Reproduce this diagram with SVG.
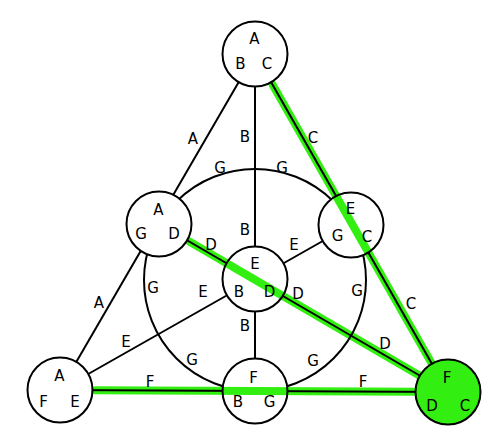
<svg xmlns="http://www.w3.org/2000/svg" width="502" height="444" viewBox="0 0 502 444">
<style>
text{font-family:"DejaVu Sans","Liberation Sans",sans-serif;font-size:15px;text-anchor:middle;fill:#000}
.ln{stroke:#000;stroke-width:2;fill:none}
.hl{stroke:#33ee11;stroke-width:8;stroke-linecap:round;fill:none}
.nd{stroke:#000;stroke-width:2;fill:none}
</style>
<defs>
<mask id="holes" maskUnits="userSpaceOnUse" x="0" y="0" width="502" height="444">
<rect x="0" y="0" width="502" height="444" fill="#fff"/>
<circle cx="255" cy="54" r="32.5" fill="#000"/>
<circle cx="159" cy="224" r="32.5" fill="#000"/>
<circle cx="351" cy="225" r="32.5" fill="#000"/>
<circle cx="255" cy="279" r="32.5" fill="#000"/>
<circle cx="60" cy="390" r="32.5" fill="#000"/>
<circle cx="255" cy="391" r="32.5" fill="#000"/>
<circle cx="448" cy="392" r="32.5" fill="#000"/>
</mask>
</defs>
<g id="highlights">
<line class="hl" x1="272.6" y1="84.8" x2="431.9" y2="363.8"/>
<line class="hl" x1="189.7" y1="241.8" x2="419.9" y2="375.7"/>
<line class="hl" x1="95.5" y1="390.2" x2="415.5" y2="391.8"/>
</g>
<g id="connectors" mask="url(#holes)">
<line class="ln" x1="255" y1="54" x2="60" y2="390"/>
<line class="ln" x1="255" y1="54" x2="448" y2="392"/>
<line class="ln" x1="60" y1="390" x2="448" y2="392"/>
<line class="ln" x1="255" y1="54" x2="255" y2="391"/>
<line class="ln" x1="159" y1="224" x2="448" y2="392"/>
<line class="ln" x1="351" y1="225" x2="60" y2="390"/>
<circle class="ln" cx="255" cy="280" r="111"/>
</g>
<g id="edge-labels">
<text x="193" y="143.5">A</text>
<text x="99" y="307.5">A</text>
<text x="245" y="141.5">B</text>
<text x="245" y="235">B</text>
<text x="245" y="331">B</text>
<text x="313" y="142.5">C</text>
<text x="411" y="308.5">C</text>
<text x="220" y="172.5">G</text>
<text x="282" y="172.5">G</text>
<text x="153" y="292.5">G</text>
<text x="357" y="296">G</text>
<text x="192" y="364.5">G</text>
<text x="313" y="365.5">G</text>
<text x="211" y="249.5">D</text>
<text x="298" y="299">D</text>
<text x="385" y="348.5">D</text>
<text x="294" y="249.5">E</text>
<text x="203" y="297">E</text>
<text x="126" y="346.5">E</text>
<text x="150" y="386.5">F</text>
<text x="363" y="387">F</text>
</g>
<g id="n-top">
<circle class="nd" cx="255" cy="54" r="32.5"/>
<text x="254.5" y="44">A</text><text x="240.5" y="69">B</text><text x="267" y="69">C</text>
</g>
<g id="n-leftmid">
<circle class="nd" cx="159" cy="224" r="32.5"/>
<text x="158.5" y="215">A</text><text x="141" y="238.5">G</text><text x="174" y="238.5">D</text>
</g>
<g id="n-rightmid">
<circle class="nd" cx="351" cy="225" r="32.5"/>
<text x="350.5" y="214">E</text><text x="337.5" y="241">G</text><text x="367" y="241.5">C</text>
</g>
<g id="n-center">
<circle class="nd" cx="255" cy="279" r="32.5"/>
<text x="255" y="269">E</text><text x="239" y="296.5">B</text><text x="269.5" y="296.5">D</text>
</g>
<g id="n-bottomleft">
<circle class="nd" cx="60" cy="390" r="32.5"/>
<text x="59.5" y="380.5">A</text><text x="43.5" y="406.5">F</text><text x="75" y="406.5">E</text>
</g>
<g id="n-bottommid">
<circle class="nd" cx="255" cy="391" r="32.5"/>
<text x="253.5" y="383">F</text><text x="238" y="407">B</text><text x="269.5" y="407">G</text>
</g>
<g id="n-bottomright">
<circle class="nd" cx="448" cy="392" r="32.5" fill="#33ee11" style="fill:#33ee11"/>
<text x="447" y="383">F</text><text x="432" y="410.5">D</text><text x="465" y="410.5">C</text>
</g>
</svg>
